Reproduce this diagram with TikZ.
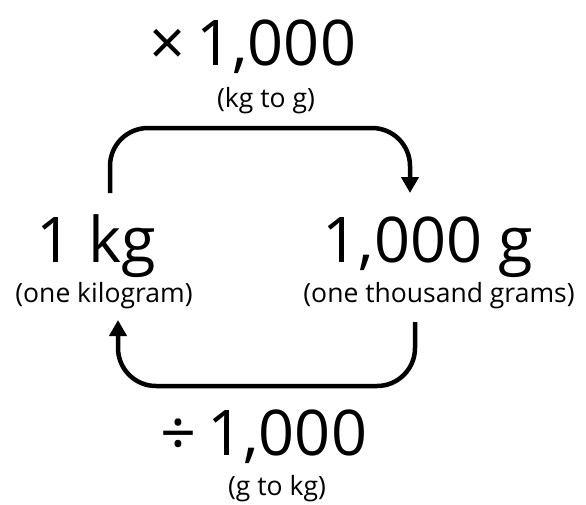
\documentclass[tikz,border=0pt]{standalone}
\usepackage{fontspec}
\setmainfont{Open Sans}
\usetikzlibrary{arrows.meta}
\begin{document}
\begin{tikzpicture}[x=1pt,y=-1pt,
  big/.style={font=\fontsize{63}{63}\selectfont, inner sep=0pt, anchor=base},
  small/.style={font=\fontsize{26.5}{26.5}\selectfont, inner sep=0pt, anchor=base},
  conn/.style={line width=4.5pt, rounded corners=38pt, -{Triangle[width=17pt,length=16pt]}}]
\useasboundingbox (0,0) rectangle (586,504);
\node[big] (mul) at (253,65) {×\,1,000};
\node[small] (mull) at (266,107) {(kg to g)};
\node[big] (kg) at (96,262) {1 kg};
\node[small] (kgl) at (104,302) {(one kilogram)};
\node[big] (g) at (428,262) {1,000 g};
\node[small] (gl) at (439,302) {(one thousand grams)};
\node[big] (div) at (264,455) {÷\,1,000};
\node[small] (divl) at (277,495) {(g to kg)};
\coordinate (t1) at (110,193);
\coordinate (t2) at (410,193);
\coordinate (b1) at (415,322);
\coordinate (b2) at (118,320);
\draw[conn] (t1) -- (110,128) -- (410,128) -- (t2);
\draw[conn] (b1) -- (415,386) -- (118,386) -- (b2);
\end{tikzpicture}
\end{document}
